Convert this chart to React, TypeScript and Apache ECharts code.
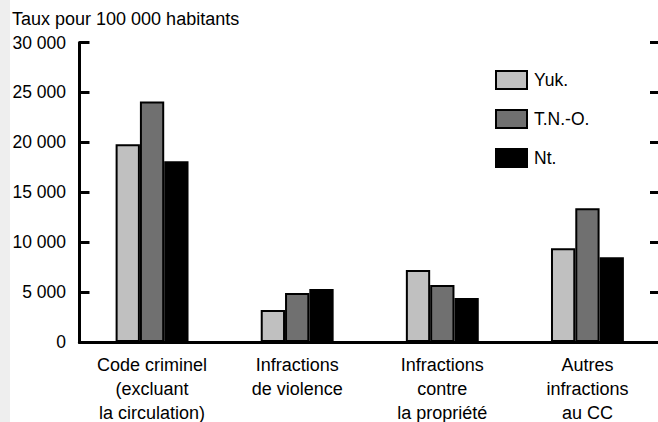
import React, { useEffect, useRef } from "react";
import * as echarts from "echarts";

const categories = [
  "Code criminel\n(excluant\nla circulation)",
  "Infractions\nde violence",
  "Infractions\ncontre\nla propriété",
  "Autres\ninfractions\nau CC",
];
const seriesNames = ["Yuk.", "T.N.-O.", "Nt."];
const yukValues = [19800, 3200, 7200, 9400];
const tnoValues = [24100, 4900, 5700, 13400];
const ntValues = [18100, 5300, 4400, 8500];
const yAxisTitle = "Taux pour 100 000 habitants";

const FONT = "'Liberation Sans', Arial, sans-serif";
const FS = 17.5;

const fmt = (v: number) => String(v).replace(/\B(?=(\d{3})+(?!\d))/g, " ");

export default function App() {
  const ref = useRef<HTMLDivElement>(null);
  useEffect(() => {
    if (!ref.current) return;
    const chart = echarts.init(ref.current, undefined, { renderer: "svg" });
    const colors = ["#c0c0c0", "#707070", "#000000"];
    const data = [yukValues, tnoValues, ntValues];
    const axisLineStyle = { color: "#000", width: 3 };
    chart.setOption({
      animation: false,
      backgroundColor: "#ffffff",
      textStyle: { fontFamily: FONT, color: "#000" },
      title: {
        text: yAxisTitle,
        left: 12,
        top: 10,
        padding: 0,
        textStyle: { fontFamily: FONT, fontSize: 18, fontWeight: "normal", color: "#000" },
      },
      graphic: [
        { type: "rect", left: 0, top: 0, shape: { x: 0, y: 0, width: 10, height: 422 }, style: { fill: "#eeeeee" }, z: -10 },
      ],
      legend: {
        orient: "vertical",
        left: 495,
        top: 70,
        padding: 0,
        itemWidth: 31,
        itemHeight: 18,
        itemGap: 19,
        icon: "rect",
        data: seriesNames,
        textStyle: { fontFamily: FONT, fontSize: FS, color: "#000", padding: [0, 0, 0, 2] },
        itemStyle: { borderColor: "#000", borderWidth: 2 },
      },
      grid: {
        left: 79.5,
        right: -2,
        top: 42.5,
        bottom: 80,
        outerBoundsMode: "none",
        containLabel: false,
      },
      xAxis: [
        {
          type: "category",
          data: categories,
          position: "bottom",
          axisTick: { show: false },
          axisLine: { lineStyle: axisLineStyle },
          axisLabel: {
            fontFamily: FONT,
            fontSize: 18,
            color: "#000",
            lineHeight: 24,
            margin: 11,
            interval: 0,
            align: "center",
          },
        },
        {
          type: "category",
          data: categories,
          position: "top",
          axisTick: { show: false },
          axisLine: { show: true, lineStyle: axisLineStyle },
          axisLabel: { show: false },
        },
      ],
      yAxis: [
        {
          type: "value",
          min: 0,
          max: 30000,
          interval: 5000,
          position: "left",
          splitLine: { show: false },
          axisLine: { show: true, lineStyle: axisLineStyle },
          axisTick: { show: true, inside: true, length: 10, lineStyle: axisLineStyle },
          axisLabel: {
            fontFamily: FONT,
            fontSize: FS,
            color: "#000",
            margin: 13.5,
            formatter: (v: number) => fmt(v),
            padding: [5, 0, 0, 0],
          },
        },
        {
          type: "value",
          min: 0,
          max: 30000,
          interval: 5000,
          position: "right",
          splitLine: { show: false },
          axisLine: { show: true, lineStyle: axisLineStyle },
          axisTick: { show: true, inside: true, length: 10, lineStyle: axisLineStyle },
          axisLabel: { show: false },
        },
      ],
      series: seriesNames.map((name, i) => ({
        name,
        type: "bar",
        xAxisIndex: 0,
        yAxisIndex: 0,
        data: data[i],
        barWidth: 24.3,
        barGap: "0%",
        itemStyle: { color: colors[i], borderColor: "#000", borderWidth: 2 },
      })),
    });
    return () => chart.dispose();
  }, []);
  return (
    <div
      ref={ref}
      style={{ position: "fixed", left: 0, top: 0, width: 658, height: 422 }}
    />
  );
}
